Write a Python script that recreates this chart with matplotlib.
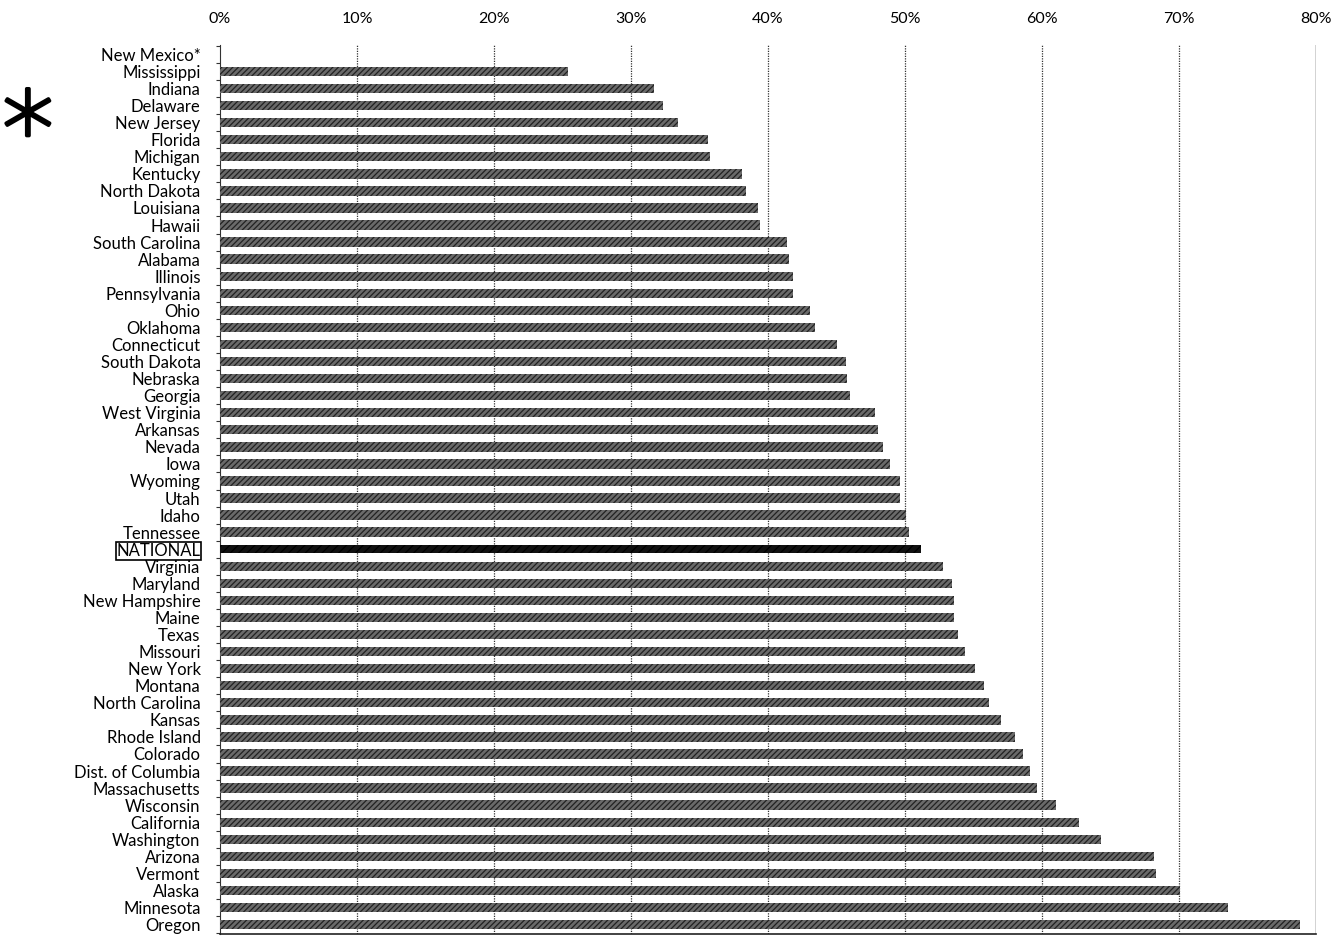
import matplotlib
matplotlib.use("Agg")
import matplotlib.pyplot as plt
import matplotlib.patheffects as pe
import numpy as np

states = ["New Mexico*", "Mississippi", "Indiana", "Delaware", "New Jersey", "Florida",
          "Michigan", "Kentucky", "North Dakota", "Louisiana", "Hawaii", "South Carolina",
          "Alabama", "Illinois", "Pennsylvania", "Ohio", "Oklahoma", "Connecticut",
          "South Dakota", "Nebraska", "Georgia", "West Virginia", "Arkansas", "Nevada",
          "Iowa", "Wyoming", "Utah", "Idaho", "Tennessee", "NATIONAL", "Virginia",
          "Maryland", "New Hampshire", "Maine", "Texas", "Missouri", "New York", "Montana",
          "North Carolina", "Kansas", "Rhode Island", "Colorado", "Dist. of Columbia",
          "Massachusetts", "Wisconsin", "California", "Washington", "Arizona", "Vermont",
          "Alaska", "Minnesota", "Oregon"]
values = [0.0, 25.4, 31.7, 32.3, 33.4, 35.6, 35.8, 38.1, 38.4, 39.3, 39.4, 41.4,
          41.5, 41.8, 41.8, 43.1, 43.4, 45.0, 45.7, 45.8, 46.0, 47.8, 48.0, 48.4,
          48.9, 49.6, 49.6, 50.1, 50.3, 51.2, 52.8, 53.4, 53.6, 53.6, 53.9, 54.4,
          55.1, 55.8, 56.1, 57.0, 58.0, 58.6, 59.1, 59.6, 61.0, 62.7, 64.3, 68.2,
          68.3, 70.1, 73.6, 78.8]
xticks = [0, 10, 20, 30, 40, 50, 60, 70, 80]
xticklabels = ["0%", "10%", "20%", "30%", "40%", "50%", "60%", "70%", "80%"]

plt.rcParams['font.family'] = ['Lato', 'DejaVu Sans']
plt.rcParams['hatch.linewidth'] = 0.9

fig = plt.figure(figsize=(13.4, 9.4), dpi=100)
ax = fig.add_axes([220/1340, 1 - 934/940, (1316-220)/1340, (934-45)/940])

y = np.arange(len(states))
for i, (s, v) in enumerate(zip(states, values)):
    if s == "NATIONAL":
        ax.barh(i, v, height=0.5, color="#111111", edgecolor="#000000",
                hatch="////", linewidth=0, zorder=3)
    else:
        ax.barh(i, v, height=0.55, color="#6a6a6a", edgecolor="#222222",
                hatch="//////", linewidth=0, zorder=3)

ax.set_ylim(len(states) - 0.45, -0.55)
ax.set_xlim(0, 80)

ax.xaxis.tick_top()
ax.set_xticks(xticks)
ax.set_xticklabels(xticklabels, fontsize=11.5)
ax.tick_params(axis='x', length=0, pad=14)
for xv in xticks[1:-1]:
    ax.axvline(xv, color="#333333", linestyle=(0, (1, 1)), linewidth=0.9, zorder=1)
ax.axvline(80, color="#222222", linewidth=1.0, zorder=1)

ax.set_yticks(y)
ax.set_yticklabels(states, fontsize=12)
ax.tick_params(axis='y', length=0, pad=14)
ax.set_yticks(np.arange(len(states) + 1) - 0.5, minor=True)
ax.tick_params(axis='y', which='minor', length=3, color="#333333", width=0.8)

for lab in ax.get_yticklabels():
    if lab.get_text() == "NATIONAL":
        lab.set_bbox(dict(facecolor="none", edgecolor="black", boxstyle="square,pad=0.05", linewidth=1.2))

ax.spines['top'].set_visible(False)
ax.spines['right'].set_visible(False)
ax.spines['left'].set_linestyle((0, (1, 1)))
ax.spines['left'].set_color("#333333")
ax.spines['bottom'].set_color("#222222")
ax.spines['bottom'].set_linewidth(1.2)

star = fig.text(28/1340, 1 - 136/940, "*", fontsize=74, ha="center", va="center",
                family="DejaVu Sans", fontweight="light", color="black")
star.set_path_effects([pe.withStroke(linewidth=2.5, foreground="black")])

fig.savefig("out.png", dpi=100)
